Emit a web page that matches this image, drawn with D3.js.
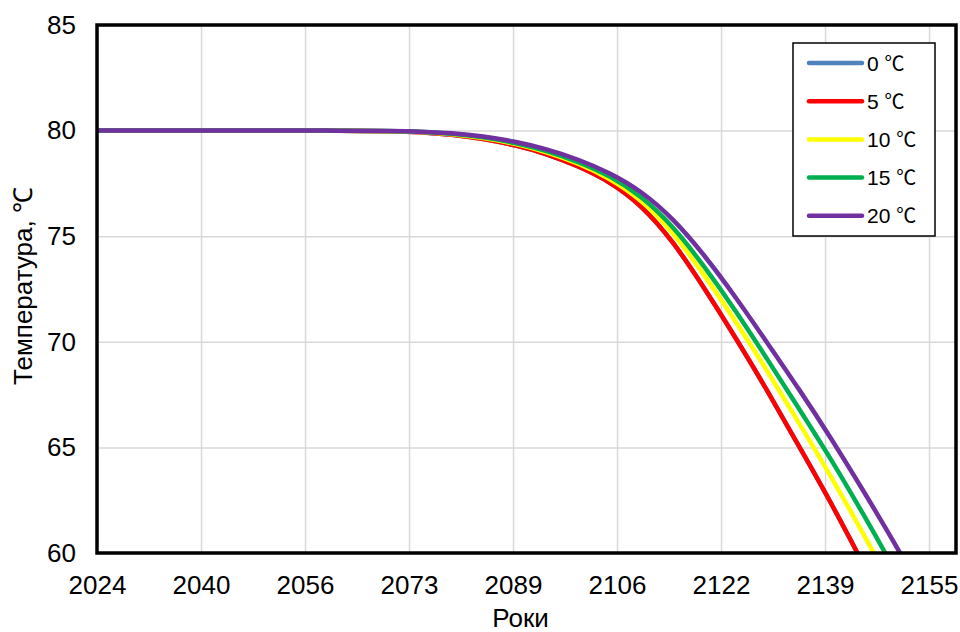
<!DOCTYPE html>
<html>
<head>
<meta charset="utf-8">
<script src="https://cdn.jsdelivr.net/npm/d3@7"></script>
<style>
  body { margin: 0; background: #fff; }
  svg { font-family: "Liberation Sans", Arial, sans-serif; }
</style>
</head>
<body>
<div id="chart"></div>
<script>
const years = [2024, 2030, 2040, 2050, 2060, 2070, 2075, 2080, 2085, 2090, 2095, 2100, 2105, 2110, 2115, 2120, 2125, 2130, 2135, 2140, 2145, 2150, 2155, 2160];

// the 0 ℃ line sits under the 5 ℃ one on the picture
const t0  = [80, 80, 80, 80, 80, 79.97, 79.92, 79.8, 79.6, 79.3, 78.88, 78.3, 77.53, 76.38, 74.68, 72.5, 70.12, 67.62, 65.0, 62.33, 59.5, 56.58, 53.58, 50.58];
const t5  = [80, 80, 80, 80, 80, 79.97, 79.92, 79.8, 79.6, 79.3, 78.88, 78.3, 77.53, 76.38, 74.68, 72.5, 70.12, 67.62, 65.0, 62.33, 59.5, 56.58, 53.58, 50.58];
const t10 = [80, 80, 80, 80, 80, 79.97, 79.93, 79.83, 79.65, 79.37, 78.97, 78.43, 77.7, 76.65, 75.11, 73.12, 70.9, 68.55, 66.1, 63.58, 60.93, 58.17, 55.31, 52.45];
const t15 = [80, 80, 80, 80, 80, 79.98, 79.94, 79.85, 79.68, 79.41, 79.03, 78.51, 77.82, 76.83, 75.4, 73.52, 71.4, 69.12, 66.78, 64.4, 61.86, 59.2, 56.44, 53.67];
const t20 = [80, 80, 80, 80, 80, 79.98, 79.95, 79.87, 79.72, 79.47, 79.11, 78.62, 77.97, 77.07, 75.77, 74.05, 72.05, 69.9, 67.7, 65.4, 62.97, 60.45, 57.82, 55.17];

const seriesNames = ["0", "5", "10", "15", "20"];
const seriesColors = ["#4f81bd", "#ff0000", "#ffff00", "#00b050", "#7030a0"];

// x tick positions (years) and their labels
const xTickValues = [2024, 2040.43, 2056.86, 2073.29, 2089.72, 2106.15, 2122.58, 2139.01, 2155.44];
const xTickLabels = ["2024", "2040", "2056", "2073", "2089", "2106", "2122", "2139", "2155"];
const yTickValues = [60, 65, 70, 75, 80, 85];

const series = [t0, t5, t10, t15, t20].map(function (vals, i) {
    return {
        name: seriesNames[i],
        color: seriesColors[i],
        values: years.map(function (yr, j) { return { x: yr, y: vals[j] }; })
    };
});

var W = 960, H = 632;
var margin = {top: 25, right: 4, bottom: 79, left: 97},
    width = W - margin.left - margin.right,
    height = H - margin.top - margin.bottom;

let x = d3.scaleLinear()
    .domain([2024, 2159.7])
    .range([0, width]);

let y = d3.scaleLinear()
    .domain([60, 85])
    .range([height, 0]);

let svg = d3.select("#chart").append("svg")
    .attr("width", W)
    .attr("height", H);

let graph = svg.append("g")
    .attr("transform", "translate(" + margin.left + "," + margin.top + ")");

graph.append("defs").append("clipPath")
    .attr("id", "clip")
    .append("rect")
    .attr("width", width)
    .attr("height", height);

// gridlines
graph.append("g")
    .attr("class", "grid-x")
    .attr("transform", "translate(0," + height + ")")
    .call(d3.axisBottom(x).tickValues(xTickValues).tickSize(-height).tickFormat(""))
    .call(g => g.select(".domain").remove())
    .call(g => g.selectAll("line").attr("stroke", "#d9d9d9").attr("stroke-width", 1.5));

graph.append("g")
    .attr("class", "grid-y")
    .call(d3.axisLeft(y).tickValues(yTickValues).tickSize(-width).tickFormat(""))
    .call(g => g.select(".domain").remove())
    .call(g => g.selectAll("line").attr("stroke", "#d9d9d9").attr("stroke-width", 1.5));

// tick labels
graph.append("g")
    .attr("class", "axis axis--x")
    .attr("transform", "translate(0," + height + ")")
    .call(d3.axisBottom(x).tickValues(xTickValues).tickSize(0).tickPadding(23)
        .tickFormat((d, i) => xTickLabels[i]))
    .call(g => g.select(".domain").remove())
    .call(g => g.selectAll("text").attr("font-size", 26).attr("fill", "#000")
        .attr("font-family", "Liberation Sans, Arial, sans-serif"));

graph.append("g")
    .attr("class", "axis axis--y")
    .call(d3.axisLeft(y).tickValues(yTickValues).tickSize(0).tickPadding(21))
    .call(g => g.select(".domain").remove())
    .call(g => g.selectAll("text").attr("font-size", 26).attr("fill", "#000")
        .attr("font-family", "Liberation Sans, Arial, sans-serif"));

var line = d3.line()
    .curve(d3.curveNatural)
    .x(function (d) { return x(d.x); })
    .y(function (d) { return y(d.y); });

graph.append("g")
    .attr("clip-path", "url(#clip)")
    .selectAll("path")
    .data(series)
    .join("path")
    .attr("fill", "none")
    .attr("stroke", d => d.color)
    .attr("stroke-width", 4.5)
    .attr("d", d => line(d.values));

// plot frame
graph.append("rect")
    .attr("width", width)
    .attr("height", height)
    .attr("fill", "none")
    .attr("stroke", "#000")
    .attr("stroke-width", 3.5);

// legend
var legend = svg.append("g")
    .attr("transform", "translate(793,43)");

legend.append("rect")
    .attr("width", 142)
    .attr("height", 193)
    .attr("fill", "#fff")
    .attr("stroke", "#000")
    .attr("stroke-width", 1.5);

var item = legend.selectAll("g.item")
    .data(series)
    .join("g")
    .attr("class", "item")
    .attr("transform", (d, i) => "translate(0," + (20 + i * 38.2) + ")");

item.append("line")
    .attr("x1", 16).attr("x2", 69)
    .attr("stroke", d => d.color)
    .attr("stroke-width", 4.5)
    .attr("stroke-linecap", "round");

var label = item.append("text")
    .attr("x", 74)
    .attr("dy", "0.36em")
    .attr("font-size", 21);
label.append("tspan").text(d => d.name + " ");
label.append("tspan")
    .attr("font-family", "Noto Sans CJK SC, sans-serif")
    .attr("font-size", 20)
    .text("℃");

// axis titles
svg.append("text")
    .attr("x", margin.left + width / 2 - 6)
    .attr("y", 627)
    .attr("text-anchor", "middle")
    .attr("font-size", 26)
    .text("Роки");

svg.append("text")
    .attr("transform", "translate(32,286) rotate(-90)")
    .attr("text-anchor", "middle")
    .attr("font-size", 26)
    .text("Температура, ℃");
</script>
</body>
</html>
